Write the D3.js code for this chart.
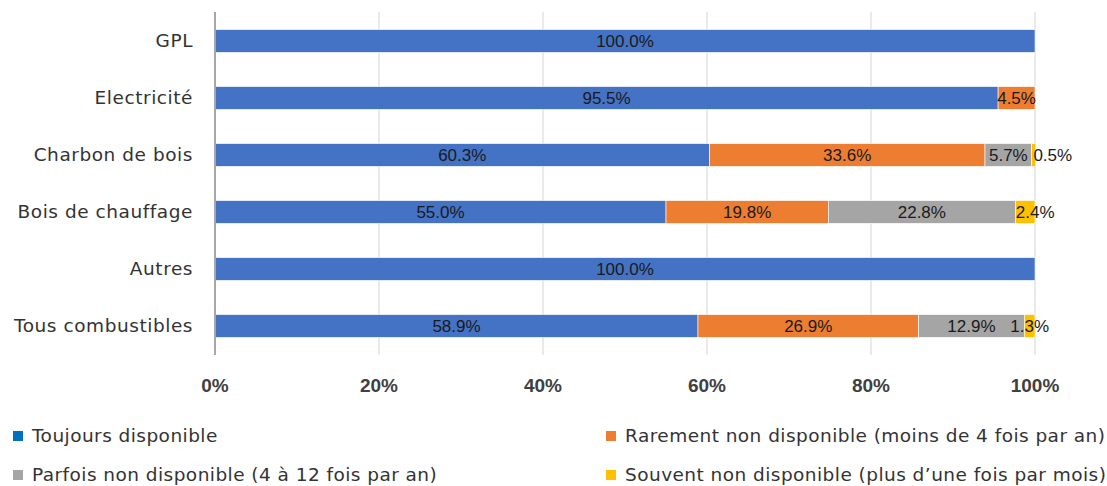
<!DOCTYPE html>
<html>
<head>
<meta charset="utf-8">
<script src="https://cdn.jsdelivr.net/npm/d3@7"></script>
<style>
  body { margin: 0; background: #fff; }
  svg { display: block; }
</style>
</head>
<body>
<svg id="chart" width="1107" height="486"></svg>
<script>
// categories, top to bottom
var categories = ["GPL", "Electricité", "Charbon de bois", "Bois de chauffage", "Autres", "Tous combustibles"];

// series values (%)
var toujours = [100.0, 95.5, 60.3, 55.0, 100.0, 58.9];
var rarement = [0, 4.5, 33.6, 19.8, 0, 26.9];
var parfois  = [0, 0, 5.7, 22.8, 0, 12.9];
var souvent  = [0, 0, 0.5, 2.4, 0, 1.3];

var seriesNames = [
  "Toujours disponible",
  "Rarement non disponible (moins de 4 fois par an)",
  "Parfois non disponible (4 à 12 fois par an)",
  "Souvent non disponible (plus d’une fois par mois)"
];
var seriesValues = [toujours, rarement, parfois, souvent];
var tickValues = [0, 20, 40, 60, 80, 100];

var colors = ["#4472C4", "#ED7D31", "#A5A5A5", "#FFC000"];
var legendColors = ["#0070C0", "#ED7D31", "#A5A5A5", "#FFC000"];

var svg = d3.select("#chart");
var plotLeft = 215, plotRight = 1035, plotTop = 12, plotBottom = 355;

var x = d3.scaleLinear().domain([0, 100]).range([plotLeft, plotRight]);
var y = d3.scaleBand().domain(categories).range([12.5, 354.5])
  .paddingInner(0.6).paddingOuter(0.3);

// gridlines
svg.append("g")
  .selectAll("line")
  .data(tickValues.slice(1))
  .enter().append("line")
    .attr("x1", function(d) { return x(d); })
    .attr("x2", function(d) { return x(d); })
    .attr("y1", plotTop)
    .attr("y2", plotBottom)
    .style("stroke", "#e3e3e3")
    .style("stroke-width", 1.5);

// stacked rows
var rows = categories.map(function(c, i) {
  var row = { cat: c };
  seriesValues.forEach(function(s, k) { row["s" + k] = s[i]; });
  return row;
});
var stack = d3.stack().keys(["s0", "s1", "s2", "s3"])(rows);

var layers = svg.append("g").selectAll("g")
  .data(stack)
  .enter().append("g")
    .style("fill", function(d, k) { return colors[k]; });

layers.selectAll("rect")
  .data(function(d) { return d.filter(function(p) { return p[1] - p[0] > 0; }); })
  .enter().append("rect")
    .attr("x", function(d) { return x(d[0]); })
    .attr("y", function(d) { return y(d.data.cat); })
    .attr("width", function(d) { return x(d[1]) - x(d[0]); })
    .attr("height", y.bandwidth())
    .style("stroke", "#fff")
    .style("stroke-width", 0.6);

// nudges for the tiny end labels
var labelShift = { "Charbon de bois": 19, "Bois de chauffage": 10 };

layers.each(function(layer, k) {
  d3.select(this).selectAll("text")
    .data(layer.filter(function(d) { return d[1] - d[0] > 0; }))
    .enter().append("text")
      .attr("x", function(d) {
        var cx = (x(d[0]) + x(d[1])) / 2;
        if (k === 3 && labelShift[d.data.cat]) cx += labelShift[d.data.cat];
        return cx;
      })
      .attr("y", function(d) { return y(d.data.cat) + y.bandwidth() / 2; })
      .attr("dy", "0.36em")
      .attr("text-anchor", "middle")
      .style("font-family", "'Liberation Sans', Arial, sans-serif")
      .style("font-size", "17px")
      .style("fill", "#1a1a1a")
      .text(function(d) { return (d[1] - d[0]).toFixed(1) + "%"; });
});

// left axis line
svg.append("line")
  .attr("x1", plotLeft).attr("x2", plotLeft)
  .attr("y1", plotTop).attr("y2", plotBottom)
  .style("stroke", "#a6a6a6")
  .style("stroke-width", 2);

// category labels
svg.append("g").selectAll("text")
  .data(categories)
  .enter().append("text")
    .attr("x", 193)
    .attr("y", function(d) { return y(d) + y.bandwidth() / 2; })
    .attr("dy", "0.35em")
    .attr("text-anchor", "end")
    .style("font-family", "'DejaVu Sans', sans-serif")
    .style("font-size", "18.5px")
    .style("letter-spacing", "0.55px")
    .style("fill", "#333")
    .text(function(d) { return d; });

// x tick labels
svg.append("g").selectAll("text")
  .data(tickValues)
  .enter().append("text")
    .attr("x", function(d) { return x(d); })
    .attr("y", 385)
    .attr("dy", "0.35em")
    .attr("text-anchor", "middle")
    .style("font-family", "'Liberation Sans', Arial, sans-serif")
    .style("font-size", "19px")
    .style("font-weight", "bold")
    .style("fill", "#404040")
    .text(function(d) { return d + "%"; });

// legend
var legendPos = [[18, 436], [611, 436], [18, 475], [611, 475]];
var legend = svg.append("g").selectAll("g")
  .data(seriesNames)
  .enter().append("g")
    .attr("transform", function(d, i) { return "translate(" + legendPos[i][0] + "," + legendPos[i][1] + ")"; });

legend.append("rect")
  .attr("x", -5).attr("y", -5)
  .attr("width", 10).attr("height", 10)
  .style("fill", function(d, i) { return legendColors[i]; });

legend.append("text")
  .attr("x", 14)
  .attr("dy", "0.35em")
  .style("font-family", "'DejaVu Sans', sans-serif")
  .style("font-size", "18.5px")
  .style("letter-spacing", "0.45px")
  .style("fill", "#333")
  .text(function(d) { return d; });
</script>
</body>
</html>
